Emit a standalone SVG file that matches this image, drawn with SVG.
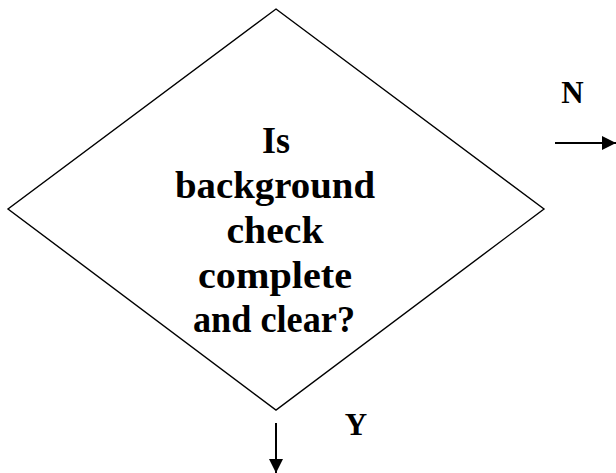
<svg xmlns="http://www.w3.org/2000/svg" width="616" height="473" viewBox="0 0 616 473">
  <defs>
    <marker id="arrow" viewBox="0 0 14 14" refX="14" refY="7" markerWidth="14" markerHeight="14" markerUnits="userSpaceOnUse" orient="auto">
      <path d="M0,0 L14,7 L0,14 z" fill="#000"/>
    </marker>
    <style>
      .shape { fill: #fff; stroke: #000; stroke-width: 1.4; }
      .label { font-family: "Liberation Serif", "Times New Roman", serif; font-weight: bold; fill: #000; text-anchor: middle; }
      .q { font-size: 37px; }
      .yn { font-size: 31px; }
      .conn { stroke: #000; stroke-width: 2; fill: none; marker-end: url(#arrow); }
    </style>
  </defs>

  <rect width="616" height="473" fill="#fff"/>

  <!-- decision node -->
  <g id="decision">
    <polygon class="shape" points="276,9 544,209 276,410 8,209"/>
    <text class="label q" x="276" y="153" textLength="28" lengthAdjust="spacingAndGlyphs">Is</text>
    <text class="label q" x="275" y="198" textLength="200" lengthAdjust="spacingAndGlyphs">background</text>
    <text class="label q" x="275" y="243" textLength="97" lengthAdjust="spacingAndGlyphs">check</text>
    <text class="label q" x="275" y="288" textLength="154" lengthAdjust="spacingAndGlyphs">complete</text>
    <text class="label q" x="274" y="332" textLength="162" lengthAdjust="spacingAndGlyphs">and clear?</text>
  </g>

  <!-- outgoing branches -->
  <g id="connectors">
    <line class="conn" x1="555" y1="143" x2="616" y2="143"/>
    <line class="conn" x1="276" y1="423" x2="276" y2="473"/>
  </g>

  <g id="branch-labels">
    <text class="label yn" x="572.5" y="103">N</text>
    <text class="label yn" x="356" y="435">Y</text>
  </g>
</svg>
